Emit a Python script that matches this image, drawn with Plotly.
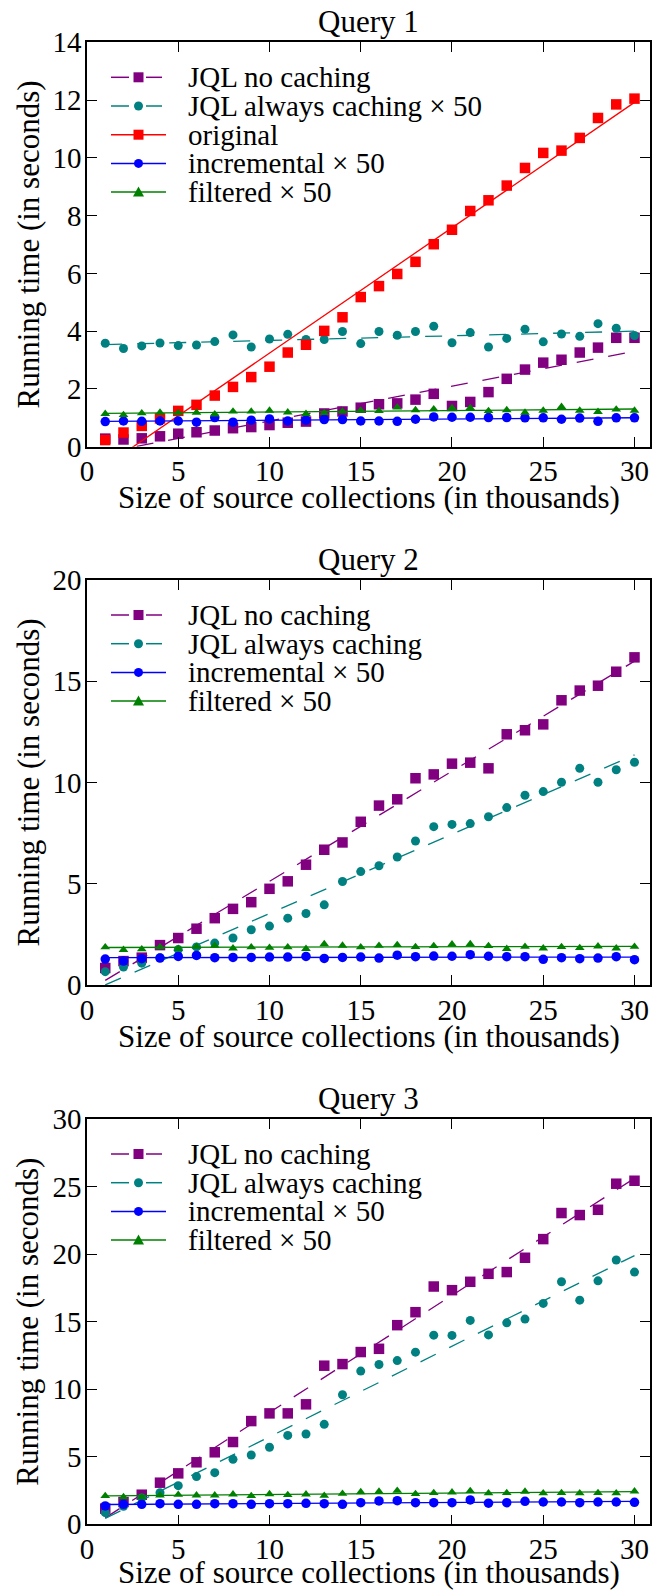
import numpy as np
import plotly.graph_objects as go

# ---------------------------------------------------------------- data
sizes = list(range(1, 31))  # size of source collections, thousands

# Query 1
q1_jql_no_cache = [0.28, 0.25, 0.29, 0.36, 0.45, 0.50, 0.56, 0.64, 0.68, 0.75,
                   0.83, 0.87, 1.15, 1.22, 1.35, 1.47, 1.50, 1.63, 1.83, 1.41,
                   1.55, 1.89, 2.35, 2.67, 2.91, 3.01, 3.26, 3.43, 3.77, 3.77]
q1_jql_cache = [3.58, 3.40, 3.49, 3.59, 3.50, 3.52, 3.64, 3.87, 3.45, 3.73,
                3.89, 3.71, 3.71, 3.99, 3.57, 3.99, 3.86, 3.99, 4.17, 3.60,
                3.95, 3.45, 3.75, 4.07, 3.63, 3.90, 3.82, 4.26, 4.10, 3.85]
q1_original = [0.23, 0.49, 0.72, 0.98, 1.24, 1.45, 1.77, 2.07, 2.41, 2.77,
               3.26, 3.53, 4.01, 4.48, 5.18, 5.56, 5.98, 6.40, 7.01, 7.51,
               8.16, 8.53, 9.04, 9.65, 10.17, 10.25, 10.69, 11.38, 11.85, 12.05]
q1_incremental = [0.87, 0.89, 0.88, 0.89, 0.89, 0.85, 1.01, 0.85, 0.92, 0.96,
                  0.89, 0.92, 0.94, 0.94, 0.89, 0.89, 0.88, 0.95, 1.03, 1.02,
                  1.02, 1.01, 1.01, 1.00, 1.00, 0.95, 0.99, 0.88, 1.00, 1.00]
q1_filtered = [1.14, 1.10, 1.16, 1.18, 1.17, 1.18, 1.12, 1.22, 1.22, 1.25,
               1.19, 1.14, 1.17, 1.22, 1.25, 1.24, 1.36, 1.27, 1.30, 1.34,
               1.34, 1.24, 1.27, 1.18, 1.25, 1.38, 1.25, 1.21, 1.29, 1.25]

# Query 2
q2_jql_no_cache = [0.84, 1.18, 1.35, 1.97, 2.32, 2.78, 3.30, 3.76, 4.09, 4.75,
                   5.12, 5.94, 6.68, 7.04, 8.06, 8.86, 9.17, 10.21, 10.40, 10.93,
                   10.98, 10.70, 12.38, 12.58, 12.87, 14.06, 14.54, 14.78, 15.47, 16.18]
q2_jql_cache = [0.66, 0.89, 1.08, 1.35, 1.75, 1.88, 2.07, 2.32, 2.73, 2.91,
                3.30, 3.53, 3.96, 5.11, 5.60, 5.89, 6.32, 7.11, 7.82, 7.93,
                7.97, 8.31, 8.76, 9.37, 9.55, 10.01, 10.70, 10.01, 10.63, 11.00]
q2_incremental = [1.28, 1.18, 1.30, 1.33, 1.41, 1.46, 1.35, 1.36, 1.36, 1.38,
                  1.38, 1.41, 1.31, 1.36, 1.38, 1.33, 1.47, 1.40, 1.43, 1.42,
                  1.50, 1.42, 1.40, 1.40, 1.27, 1.35, 1.30, 1.33, 1.40, 1.25]
q2_filtered = [1.87, 1.74, 1.77, 1.87, 1.79, 1.89, 1.94, 1.81, 1.87, 1.84,
               1.87, 1.79, 2.02, 1.95, 1.87, 1.94, 1.98, 1.88, 1.93, 2.01,
               2.02, 1.93, 1.79, 1.89, 1.81, 1.88, 1.83, 1.91, 1.81, 1.89]

# Query 3
q3_jql_no_cache = [1.16, 1.65, 2.19, 3.08, 3.77, 4.59, 5.33, 6.09, 7.64, 8.21,
                   8.21, 8.88, 11.74, 11.86, 12.75, 12.99, 14.74, 15.70, 17.60, 17.33,
                   17.95, 18.54, 18.67, 19.73, 21.11, 23.04, 22.89, 23.28, 25.21, 25.43]
q3_jql_cache = [0.86, 1.33, 1.95, 2.34, 2.86, 3.53, 3.82, 4.81, 5.13, 5.70,
                6.58, 6.68, 7.40, 9.59, 11.34, 11.83, 12.12, 12.74, 14.00, 13.98,
                15.09, 14.02, 14.91, 15.19, 16.35, 17.95, 16.59, 18.02, 19.56, 18.67]
q3_incremental = [1.36, 1.48, 1.48, 1.53, 1.48, 1.48, 1.53, 1.53, 1.48, 1.53,
                  1.53, 1.55, 1.53, 1.48, 1.60, 1.73, 1.75, 1.60, 1.60, 1.60,
                  1.80, 1.56, 1.60, 1.70, 1.65, 1.65, 1.60, 1.65, 1.65, 1.63]
q3_filtered = [2.10, 2.02, 2.02, 2.15, 2.19, 2.15, 2.15, 2.22, 2.10, 2.24,
               2.17, 2.22, 2.12, 2.27, 2.39, 2.42, 2.49, 2.25, 2.32, 2.37,
               2.47, 2.30, 2.32, 2.42, 2.30, 2.32, 2.30, 2.32, 2.30, 2.44]

y_tick_q1 = [0, 2, 4, 6, 8, 10, 12, 14]
y_tick_q2 = [0, 5, 10, 15, 20]
y_tick_q3 = [0, 5, 10, 15, 20, 25, 30]
x_ticks = [0, 5, 10, 15, 20, 25, 30]

# ---------------------------------------------------------------- styles
STYLE = {
    "JQL no caching":           dict(color="#800080", symbol="square", size=10.5, dash=True),
    "JQL always caching":       dict(color="#008080", symbol="circle", size=9, dash=True),
    "JQL always caching × 50":  dict(color="#008080", symbol="circle", size=9, dash=True),
    "original":                 dict(color="#FF0000", symbol="square", size=10.5, dash=False),
    "incremental × 50":         dict(color="#0000FF", symbol="circle", size=9.5, dash=False),
    "filtered × 50":            dict(color="#008000", symbol="triangle-up", size=8.5, dash=False),
}

panels = [
    dict(title="Query 1", yticks=y_tick_q1, series=[
        ("JQL no caching", q1_jql_no_cache),
        ("JQL always caching × 50", q1_jql_cache),
        ("original", q1_original),
        ("incremental × 50", q1_incremental),
        ("filtered × 50", q1_filtered)]),
    dict(title="Query 2", yticks=y_tick_q2, series=[
        ("JQL no caching", q2_jql_no_cache),
        ("JQL always caching", q2_jql_cache),
        ("incremental × 50", q2_incremental),
        ("filtered × 50", q2_filtered)]),
    dict(title="Query 3", yticks=y_tick_q3, series=[
        ("JQL no caching", q3_jql_no_cache),
        ("JQL always caching", q3_jql_cache),
        ("incremental × 50", q3_incremental),
        ("filtered × 50", q3_filtered)]),
]

# ---------------------------------------------------------------- geometry (pixels)
FIG_W, FIG_H = 653, 1593
M_L, M_R = 87, 3
PLOT_W = FIG_W - M_L - M_R
FRAMES = [(42.3, 446.7), (580.0, 985.0), (1119.0, 1524.3)]  # top / bottom of each axes box
X_MAX = 30.85
FONT = "Liberation Serif"
FS_TITLE = 31     # panel titles and axis titles
FS_TICK = 29      # tick labels
FS_LEGEND = 29    # legend entries


def fx(px):
    return (px - M_L) / PLOT_W


def fy(py):
    return 1 - py / FIG_H


fig = go.Figure()
layout = dict(
    template="none",
    width=FIG_W, height=FIG_H, autosize=False,
    margin=dict(l=M_L, r=M_R, t=0, b=0, pad=0, autoexpand=False),
    paper_bgcolor="white", plot_bgcolor="white",
    showlegend=False,
    font=dict(family=FONT, size=FS_TICK, color="black"),
)
shapes, annotations = [], []

axis_common = dict(
    showgrid=False, zeroline=False, showline=True, linecolor="black", linewidth=1.5,
    mirror="ticks", ticks="inside", ticklen=10, tickwidth=1.2, tickcolor="black",
    automargin=False, tickfont=dict(family=FONT, size=FS_TICK, color="black"),
)

for i, panel in enumerate(panels):
    n = "" if i == 0 else str(i + 1)
    xref, yref = "x" + n, "y" + n
    top, bottom = FRAMES[i]
    yt = panel["yticks"]

    layout["xaxis" + n] = dict(axis_common, domain=[0, 1], anchor=yref,
                               range=[0, X_MAX], tickvals=x_ticks, ticklabelstandoff=-2)
    layout["yaxis" + n] = dict(axis_common, domain=[fy(bottom), fy(top)], anchor=xref,
                               range=[yt[0], yt[-1]], tickvals=yt, ticklabelstandoff=-2)

    # measured points + least-squares trend line per series
    for name, vals in panel["series"]:
        st = STYLE[name]
        fig.add_trace(go.Scatter(
            x=sizes, y=vals, mode="markers", xaxis=xref, yaxis=yref,
            marker=dict(symbol=st["symbol"], size=st["size"], color=st["color"],
                        line=dict(width=0)),
            cliponaxis=False, name=name))
        slope, icpt = np.polyfit(sizes, vals, 1)
        trend = [slope * s + icpt for s in sizes]
        fig.add_trace(go.Scatter(
            x=sizes, y=trend, mode="lines", xaxis=xref, yaxis=yref,
            line=dict(color=st["color"], width=1.3,
                      dash="17px,15px" if st["dash"] else "solid"),
            hoverinfo="skip", showlegend=False))

    # panel title and axis titles
    annotations.append(dict(text=panel["title"], xref="paper", yref="paper",
                            x=0.5, y=fy(top - 21), xanchor="center", yanchor="middle",
                            showarrow=False, font=dict(family=FONT, size=FS_TITLE)))
    annotations.append(dict(text="Size of source collections (in thousands)",
                            xref="paper", yref="paper", x=0.5, y=fy(min(bottom + 51, 1572)),
                            xanchor="center", yanchor="middle", showarrow=False,
                            font=dict(family=FONT, size=FS_TITLE)))
    annotations.append(dict(text="Running time (in seconds)", xref="paper", yref="paper",
                            x=fx(28), y=fy((top + bottom) / 2), textangle=-90,
                            xanchor="center", yanchor="middle", showarrow=False,
                            font=dict(family=FONT, size=FS_TITLE)))

    # legend block in the upper-left corner
    for j, (name, _) in enumerate(panel["series"]):
        st = STYLE[name]
        yc = top + 35 + 28.7 * j
        seg = [(111, 129), (146, 162)] if st["dash"] else [(111, 166)]
        for a, b in seg:
            shapes.append(dict(type="line", xref="paper", yref="paper",
                               x0=fx(a), x1=fx(b), y0=fy(yc), y1=fy(yc),
                               line=dict(color=st["color"], width=1.5)))
        cx = 138.5
        if st["symbol"] == "square":
            shapes.append(dict(type="rect", xref="paper", yref="paper",
                               x0=fx(cx - 5), x1=fx(cx + 5), y0=fy(yc + 5), y1=fy(yc - 5),
                               fillcolor=st["color"], line=dict(width=0)))
        elif st["symbol"] == "circle":
            shapes.append(dict(type="circle", xref="paper", yref="paper",
                               x0=fx(cx - 4.5), x1=fx(cx + 4.5), y0=fy(yc + 4.5), y1=fy(yc - 4.5),
                               fillcolor=st["color"], line=dict(width=0)))
        else:
            path = "M {:.5f},{:.5f} L {:.5f},{:.5f} L {:.5f},{:.5f} Z".format(
                fx(cx), fy(yc - 5.5), fx(cx - 5.5), fy(yc + 4.5), fx(cx + 5.5), fy(yc + 4.5))
            shapes.append(dict(type="path", xref="paper", yref="paper", path=path,
                               fillcolor=st["color"], line=dict(width=0)))
        annotations.append(dict(text=name, xref="paper", yref="paper",
                                x=fx(186), y=fy(yc), xanchor="left", yanchor="middle",
                                showarrow=False, font=dict(family=FONT, size=FS_LEGEND)))

layout["shapes"] = shapes
layout["annotations"] = annotations
fig.update_layout(**layout)
fig.write_html("out.html")
